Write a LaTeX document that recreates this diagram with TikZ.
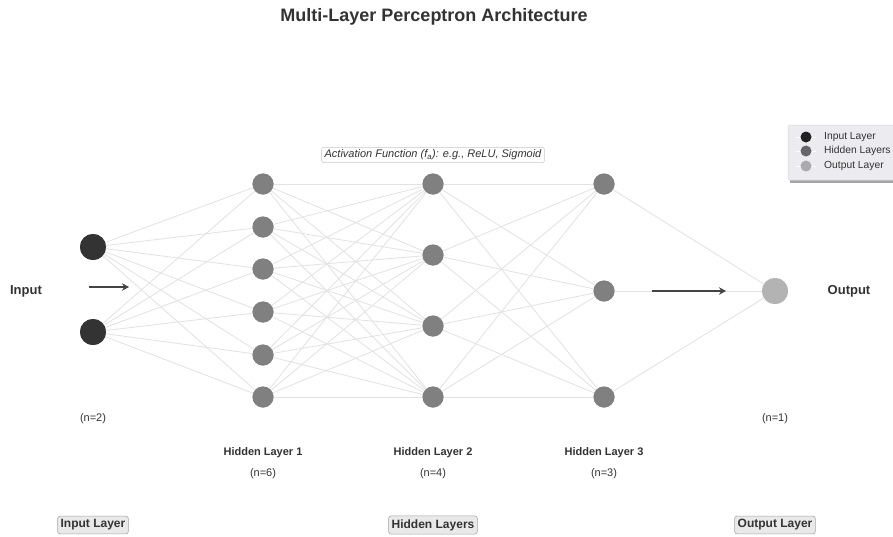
\documentclass[tikz,border=0pt]{standalone}
\usepackage{fontspec}
\setmainfont{Liberation Sans}
\usetikzlibrary{arrows.meta}
\definecolor{inputc}{HTML}{333333}
\definecolor{hiddenc}{HTML}{808080}
\definecolor{outputc}{HTML}{B3B3B3}
\definecolor{edgec}{HTML}{E2E2E2}
\definecolor{arrowc}{HTML}{444444}
\definecolor{txtc}{HTML}{333333}
\definecolor{tagfill}{HTML}{E9E9E9}
\definecolor{legfill}{HTML}{EBEBF0}
\begin{document}
\begin{tikzpicture}[x=1pt,y=-1pt,
  neuron/.style={circle,inner sep=0pt,draw=none},
  inneuron/.style={neuron,fill=inputc,minimum size=26pt},
  hidneuron/.style={neuron,fill=hiddenc,minimum size=21pt},
  outneuron/.style={neuron,fill=outputc,minimum size=26pt},
  link/.style={draw=edgec,line width=0.8pt},
  flow/.style={draw=arrowc,line width=2.8pt,-{Stealth[length=7pt,width=7.5pt]}},
  sidelabel/.style={font=\bfseries\fontsize{13}{15}\selectfont,text=txtc},
  countlabel/.style={font=\fontsize{11}{13}\selectfont,text=txtc},
  layername/.style={font=\bfseries\fontsize{11}{13}\selectfont,text=txtc},
  tag/.style={draw=black!35,fill=tagfill,rounded corners=2.5pt,line width=0.6pt,
    inner xsep=3pt,inner ysep=3.5pt,font=\bfseries\fontsize{12}{14}\selectfont,text=txtc},
  legentry/.style={font=\fontsize{10.3}{12}\selectfont,text=txtc,anchor=west,inner sep=0pt},
  legdot/.style={circle,inner sep=0pt,minimum size=11pt}
]
\useasboundingbox (0,0) rectangle (893,536);
\fill[white] (0,0) rectangle (893,536);

% title
\node[font=\bfseries\fontsize{18}{21}\selectfont,text=txtc] (title) at (434,17) {Multi-Layer Perceptron Architecture};

% neurons
\node[inneuron] (i1) at (93,247) {};
\node[inneuron] (i2) at (93,332) {};
\foreach \k/\yy in {1/184,2/227,3/269,4/312,5/355,6/397}
  \node[hidneuron] (a\k) at (263,\yy) {};
\foreach \k/\yy in {1/184,2/255,3/326,4/397}
  \node[hidneuron] (b\k) at (433,\yy) {};
\foreach \k/\yy in {1/184,2/291,3/397}
  \node[hidneuron] (c\k) at (604,\yy) {};
\node[outneuron] (o1) at (775,291) {};

% fully connected links between consecutive layers
\foreach \s in {1,2} \foreach \t in {1,...,6}
  \draw[link] (i\s.center) -- (a\t.center);
\foreach \s in {1,...,6} \foreach \t in {1,...,4}
  \draw[link] (a\s.center) -- (b\t.center);
\foreach \s in {1,...,4} \foreach \t in {1,...,3}
  \draw[link] (b\s.center) -- (c\t.center);
\foreach \s in {1,...,3}
  \draw[link] (c\s.center) -- (o1.center);

% repaint neurons above the links
\node[inneuron] at (i1) {};
\node[inneuron] at (i2) {};
\foreach \k in {1,...,6} \node[hidneuron] at (a\k) {};
\foreach \k in {1,...,4} \node[hidneuron] at (b\k) {};
\foreach \k in {1,...,3} \node[hidneuron] at (c\k) {};
\node[outneuron] at (o1) {};

% input / output flow arrows
\coordinate (inA) at (89,287);
\coordinate (inB) at (129,287);
\coordinate (outA) at (652,291);
\coordinate (outB) at (726,291);
\draw[flow] (inA) -- (inB);
\draw[flow] (outA) -- (outB);

\node[sidelabel] (inlab) at (26,291) {Input};
\node[sidelabel] (outlab) at (849,291) {Output};

% neuron counts and layer names
\node[countlabel] (n0) at (93,419) {(n=2)};
\node[countlabel] (n4) at (775,419) {(n=1)};
\node[layername] (h1) at (263,453) {Hidden Layer 1};
\node[layername] (h2) at (433,453) {Hidden Layer 2};
\node[layername] (h3) at (604,453) {Hidden Layer 3};
\node[countlabel] (n1) at (263,474) {(n=6)};
\node[countlabel] (n2) at (433,474) {(n=4)};
\node[countlabel] (n3) at (604,474) {(n=3)};

% activation note
\node[draw=black!22,fill=white,rounded corners=2pt,line width=0.5pt,inner xsep=3pt,inner ysep=2.5pt,
  font=\itshape\fontsize{11}{13}\selectfont,text=txtc] (act) at (433,155)
  {Activation Function (f\textsubscript{a}): e.g., ReLU, Sigmoid};

% group tags
\node[tag] (tin) at (93,525) {Input Layer};
\node[tag] (thid) at (433,525) {Hidden Layers};
\node[tag] (tout) at (775,525) {Output Layer};

% legend
\fill[black!35] (790,127) rectangle (895,183);
\filldraw[fill=legfill,draw=black!15,line width=0.5pt,rounded corners=1.5pt] (788,125) rectangle (895,180);
\foreach \yy/\cc/\tt [count=\k] in {137/black!87/Input Layer,151/black!60/Hidden Layers,166/black!33/Output Layer}{
  \draw[white,line width=1pt] (796,\yy) -- (816,\yy);
  \node[legdot,fill=\cc] (ld\k) at (806,\yy) {};
  \node[legentry] (lt\k) at (824,\yy) {\tt};
}
\end{tikzpicture}
\end{document}
